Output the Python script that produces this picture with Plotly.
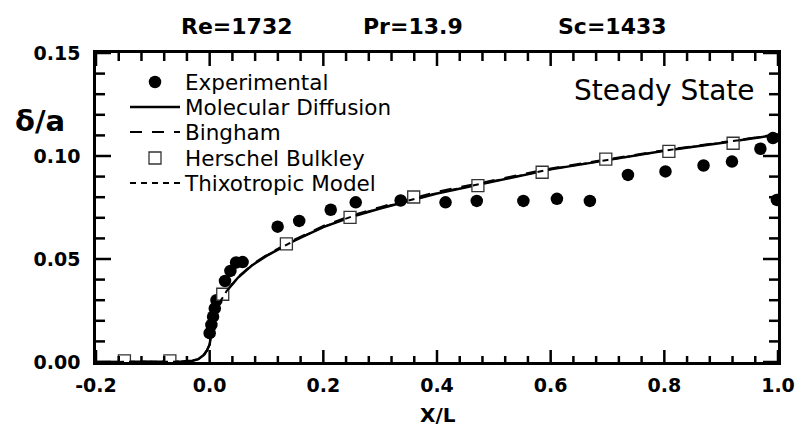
import plotly.graph_objects as go

# Experimental boundary-layer thickness
exp_x = [0.000, 0.003, 0.006, 0.009, 0.012, 0.027, 0.0365, 0.0465, 0.058,
         0.1196, 0.1575, 0.213, 0.257, 0.336, 0.415, 0.470, 0.552, 0.611,
         0.669, 0.736, 0.802, 0.869, 0.919, 0.969, 0.991, 0.998]
exp_y = [0.014, 0.018, 0.022, 0.026, 0.030, 0.0393, 0.0442, 0.0483, 0.0485,
         0.0657, 0.0685, 0.0739, 0.0775, 0.0784, 0.0775, 0.0782, 0.0782, 0.0792,
         0.0782, 0.0908, 0.0925, 0.0954, 0.0973, 0.1035, 0.1087, 0.0787]

# Model curves
model_x = [-0.2, -0.1, -0.05, -0.03, -0.02, -0.01, -0.005, 0.0, 0.002, 0.005,
           0.01, 0.02, 0.03, 0.05, 0.075, 0.1, 0.15, 0.2, 0.25, 0.3, 0.4, 0.5,
           0.6, 0.7, 0.8, 0.9, 1.0]
molecular_y = [0.0, 0.0, 0.0002, 0.0006, 0.0014, 0.0035, 0.0055, 0.0085, 0.0135,
               0.0185, 0.0235, 0.0300, 0.0345, 0.0410, 0.0470, 0.0515, 0.0590,
               0.0655, 0.0705, 0.0745, 0.0818, 0.0875, 0.0935, 0.0980, 0.1025,
               0.1063, 0.1104]
bingham_y = [0.0, 0.0, 0.0002, 0.0006, 0.0014, 0.0035, 0.0055, 0.0085, 0.0135,
             0.0185, 0.0236, 0.0302, 0.0347, 0.0413, 0.0474, 0.0519, 0.0595,
             0.0661, 0.0711, 0.0752, 0.0826, 0.0882, 0.0940, 0.0984, 0.1028,
             0.1066, 0.1106]
thixo_y = [0.0, 0.0, 0.0002, 0.0006, 0.0014, 0.0035, 0.0055, 0.0085, 0.0135,
           0.0185, 0.0235, 0.0300, 0.0345, 0.0411, 0.0471, 0.0516, 0.0591,
           0.0656, 0.0706, 0.0747, 0.0820, 0.0877, 0.0936, 0.0981, 0.1026,
           0.1064, 0.1105]

# Herschel-Bulkley model points
hb_x = [-0.150, -0.070, 0.023, 0.135, 0.247, 0.359, 0.472, 0.585, 0.697, 0.808, 0.921]
hb_y = [0.0005, 0.0005, 0.0329, 0.0573, 0.0702, 0.0801, 0.0856, 0.0921, 0.0985, 0.1022, 0.1062]

# Axis ticks: labelled major ticks and number of minor intervals per major step
x_ticks = [-0.2, 0.0, 0.2, 0.4, 0.6, 0.8, 1.0]
x_tick_text = ["-0.2", "0.0", "0.2", "0.4", "0.6", "0.8", "1.0"]
y_ticks = [0.00, 0.05, 0.10, 0.15]
y_tick_text = ["0.00", "0.05", "0.10", "0.15"]
x_minor_per_major = 5
y_minor_per_major = 5

FONT = "DejaVu Sans"

# plot-area geometry in pixels (used for paper-coordinate placement)
L, R, T, B = 96, 778, 53, 362
PW, PH = R - L, B - T


def px(xp):
    return (xp - L) / PW


def py(yp):
    return (B - yp) / PH


# one single-entry legend per trace so each row can be spaced freely
legend_rows = [("legend", 82), ("legend2", 107), ("legend3", 132),
               ("legend4", 158), ("legend5", 183)]

fig = go.Figure()
fig.add_trace(go.Scatter(x=exp_x, y=exp_y, mode="markers", name="Experimental",
                         legend="legend",
                         marker=dict(symbol="circle", size=12.5, color="black",
                                     line=dict(width=0))))
fig.add_trace(go.Scatter(x=model_x, y=molecular_y, mode="lines", name="Molecular Diffusion",
                         legend="legend2",
                         line=dict(color="black", width=2.5)))
fig.add_trace(go.Scatter(x=model_x, y=bingham_y, mode="lines", name="Bingham",
                         legend="legend3",
                         line=dict(color="black", width=2, dash="12px,10px")))
fig.add_trace(go.Scatter(x=hb_x, y=hb_y, mode="markers", name="Herschel Bulkley",
                         legend="legend4",
                         marker=dict(symbol="square", size=12, color="white",
                                     line=dict(width=1.3, color="#333333"))))
fig.add_trace(go.Scatter(x=model_x, y=thixo_y, mode="lines", name="Thixotropic Model",
                         legend="legend5",
                         line=dict(color="black", width=2, dash="6px,5px")))

x_range = [x_ticks[0], x_ticks[-1]]
y_range = [y_ticks[0], y_ticks[-1]]

frame = dict(showline=True, linecolor="black", linewidth=2.5, mirror=True,
             ticks="", showgrid=False, zeroline=False, automargin=False)
tick_font = dict(family=FONT, size=19, color="black", weight="bold")

fig.update_layout(
    xaxis=dict(range=x_range, tickmode="array", tickvals=x_ticks, ticktext=x_tick_text,
               tickfont=tick_font, ticklabelstandoff=4, **frame),
    yaxis=dict(range=y_range, tickmode="array", tickvals=y_ticks, ticktext=y_tick_text,
               tickfont=tick_font, ticklabelstandoff=9, **frame),
)

# Inward tick marks on all four sides of the frame (major + minor)
TICK = dict(color="black", width=2.5)


def tick_positions(major, per_major):
    out = []
    for a, b in zip(major[:-1], major[1:]):
        step = (b - a) / per_major
        out += [(a + k * step, k == 0) for k in range(per_major)]
    out.append((major[-1], True))
    return out


for xv, is_major in tick_positions(x_ticks, x_minor_per_major):
    bottom_len = (12 if is_major else 6) / PH
    top_len = (13 if is_major else 8) / PH
    fig.add_shape(type="line", xref="x", yref="y domain", x0=xv, x1=xv,
                  y0=0, y1=bottom_len, line=TICK)
    fig.add_shape(type="line", xref="x", yref="y domain", x0=xv, x1=xv,
                  y0=1, y1=1 - top_len, line=TICK)

for yv, is_major in tick_positions(y_ticks, y_minor_per_major):
    side_len = (15 if is_major else 9) / PW
    fig.add_shape(type="line", xref="x domain", yref="y", x0=0, x1=side_len,
                  y0=yv, y1=yv, line=TICK)
    fig.add_shape(type="line", xref="x domain", yref="y", x0=1, x1=1 - side_len,
                  y0=yv, y1=yv, line=TICK)

# Header labels and axis captions
for txt, xp in [("Re=1732", 237), ("Pr=13.9", 413), ("Sc=1433", 612)]:
    fig.add_annotation(text=txt, xref="paper", yref="paper", x=px(xp), y=py(26),
                       showarrow=False, xanchor="center", yanchor="middle",
                       font=dict(family=FONT, size=22, color="black", weight="bold"))
fig.add_annotation(text="X/L", xref="paper", yref="paper", x=px(438), y=py(415),
                   showarrow=False, xanchor="center", yanchor="middle",
                   font=dict(family=FONT, size=20, color="black", weight="bold"))
fig.add_annotation(text="δ/a", xref="paper", yref="paper", x=px(40), y=py(121),
                   showarrow=False, xanchor="center", yanchor="middle",
                   font=dict(family=FONT, size=29, color="black", weight="bold"))
fig.add_annotation(text="Steady State", xref="paper", yref="paper", x=px(664), y=py(90),
                   showarrow=False, xanchor="center", yanchor="middle",
                   font=dict(family=FONT, size=28, color="black"))

legend_style = dict(xanchor="left", yanchor="middle", bgcolor="rgba(0,0,0,0)",
                    borderwidth=0, itemwidth=50,
                    font=dict(family=FONT, size=21.5, color="black"))
layout_legends = {name: dict(x=px(125), y=py(yp), **legend_style)
                  for name, yp in legend_rows}

fig.update_layout(
    width=799, height=428,
    margin=dict(l=L, r=799 - R, t=T, b=428 - B),
    paper_bgcolor="white", plot_bgcolor="white",
    showlegend=True,
    **layout_legends,
)

fig.write_html("out.html")
